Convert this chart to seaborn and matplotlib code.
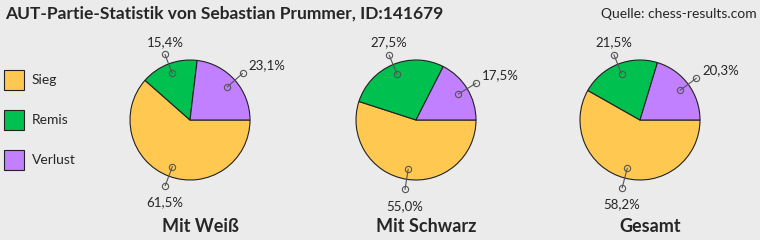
import numpy as np
import seaborn as sns
import matplotlib.pyplot as plt
from matplotlib.patches import Rectangle

# data
categories = ["Sieg", "Remis", "Verlust"]
titles = ["Mit Weiß", "Mit Schwarz", "Gesamt"]
shares = {
    "Mit Weiß": [61.5, 15.4, 23.1],
    "Mit Schwarz": [55.0, 27.5, 17.5],
    "Gesamt": [58.2, 21.5, 20.3],
}
colors = ["#FFC850", "#00C050", "#C080FF"]

bg = "#EBEBEB"
sns.set_style("white", {"axes.facecolor": bg, "figure.facecolor": bg})
plt.rcParams["font.family"] = ["Lato", "DejaVu Sans"]

W, H = 760, 240
fig = plt.figure(figsize=(W / 100, H / 100), dpi=100)
fig.patch.set_facecolor(bg)

R = 60  # pie radius in px
centers = [190, 416, 640]
cy = 120
half = 100

for cx, name in zip(centers, titles):
    ax = fig.add_axes([(cx - half) / W, (H - cy - half) / H, 2 * half / W, 2 * half / H])
    ax.set_facecolor(bg)
    vals = shares[name]
    wedges, _ = ax.pie(vals, colors=sns.color_palette(colors), startangle=0,
                       counterclock=False, radius=1,
                       wedgeprops=dict(edgecolor="#222222", linewidth=0.8))
    lim = half / R
    ax.set_xlim(-lim, lim)
    ax.set_ylim(-lim, lim)
    ax.set_aspect("equal")
    ax.axis("off")

    for w, v in zip(wedges, vals):
        ang = np.deg2rad((w.theta1 + w.theta2) / 2)
        c, s = np.cos(ang), np.sin(ang)
        p_in = (0.83 * c, 0.83 * s)
        p_out = (1.17 * c, 1.17 * s)
        ax.plot([p_in[0], p_out[0]], [p_in[1], p_out[1]], color="#555555", lw=0.8,
                clip_on=False)
        ax.plot([p_in[0], p_out[0]], [p_in[1], p_out[1]], "o", ms=4.5, mfc="none",
                mec="#555555", mew=0.8, clip_on=False)
        lab = f"{v:.1f}%".replace(".", ",")
        if c > 0.3:
            ax.annotate(lab, p_out, xytext=(4, 6), textcoords="offset points",
                        ha="left", va="center", fontsize=9.5)
        elif s > 0:
            ax.annotate(lab, p_out, xytext=(0, 9), textcoords="offset points",
                        ha="center", va="center", fontsize=9.5)
        else:
            ax.annotate(lab, p_out, xytext=(0, -12), textcoords="offset points",
                        ha="center", va="center", fontsize=9.5)

    fig.text((cx + 10) / W, 1 - 227 / H, name, ha="center", va="center",
             fontsize=13, fontweight="bold")

fig.text(5 / W, 1 - 14 / H, "AUT-Partie-Statistik von Sebastian Prummer, ID:141679",
         ha="left", va="center", fontsize=12.5, fontweight="bold")
fig.text(757 / W, 1 - 14 / H, "Quelle: chess-results.com", ha="right", va="center",
         fontsize=10)

# legend, drawn by hand: 20px boxes every 40px
for i, (cat, col) in enumerate(zip(categories, colors)):
    top = 70 + 40 * i
    fig.add_artist(Rectangle((4 / W, 1 - (top + 20) / H), 20 / W, 20 / H,
                             transform=fig.transFigure, facecolor=col,
                             edgecolor="#222222", linewidth=0.8))
    fig.text(32 / W, 1 - (top + 10) / H, cat, ha="left", va="center", fontsize=10)

fig.savefig("out.png", dpi=100, facecolor=bg)
